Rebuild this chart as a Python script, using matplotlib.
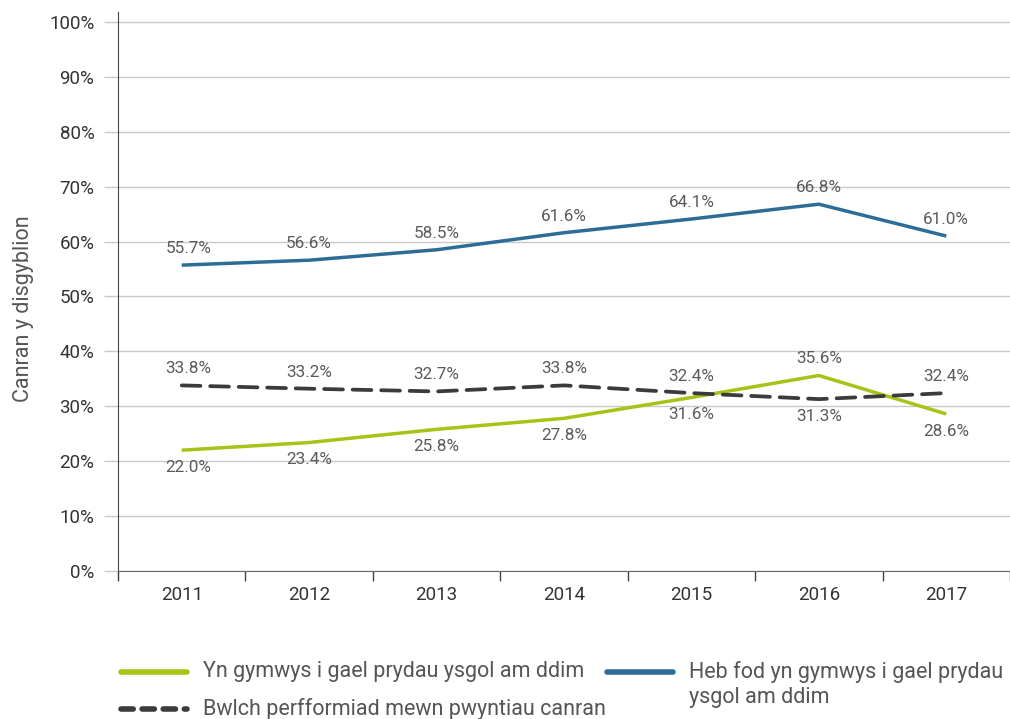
import matplotlib
matplotlib.use("Agg")
import matplotlib.pyplot as plt
from matplotlib.lines import Line2D

plt.rcParams['font.family'] = ['Roboto', 'DejaVu Sans']

years = ["2011", "2012", "2013", "2014", "2015", "2016", "2017"]
freeMeals = [22.0, 23.4, 25.8, 27.8, 31.6, 35.6, 28.6]
notFreeMeals = [55.7, 56.6, 58.5, 61.6, 64.1, 66.8, 61.0]
gap = [33.8, 33.2, 32.7, 33.8, 32.4, 31.3, 32.4]
yTicks = [0, 10, 20, 30, 40, 50, 60, 70, 80, 90, 100]

# label positions for each series: 1 above, -1 below
freePos = [-1, -1, -1, -1, -1, 1, -1]
notFreePos = [1, 1, 1, 1, 1, 1, 1]
gapPos = [1, 1, 1, 1, 1, -1, 1]

green = "#a5c416"
blue = "#2b6d97"
dark = "#3b3b3b"
textGray = "#5a5a5a"
gridGray = "#c8c8c8"

fig = plt.figure(figsize=(10.10, 7.19), dpi=100)
ax = fig.add_axes([118/1010, 1 - 571/719, 1 - 118/1010, (571 - 12)/719])

x = list(range(len(years)))
ax.plot(x, notFreeMeals, color=blue, lw=2.5, solid_capstyle="butt", zorder=3)
ax.plot(x, freeMeals, color=green, lw=2.5, solid_capstyle="butt", zorder=3)
ax.plot(x, gap, color=dark, lw=2.7, ls=(0, (5, 2.6)), dash_capstyle="round", zorder=4)

def addLabels(values, pos):
	for i, v in enumerate(values):
		off = 12 if pos[i] > 0 else -12.5
		ax.annotate("{:.1f}%".format(v), (i, v), xytext=(5 if i == 0 else 0, off),
			textcoords="offset points", ha="center", va="center",
			fontsize=12.3, color=textGray)

addLabels(notFreeMeals, notFreePos)
addLabels(freeMeals, freePos)
addLabels(gap, gapPos)

ax.set_xlim(-0.5, 6.5)
ax.set_ylim(0, 101.8)
ax.set_yticks(yTicks)
ax.set_yticklabels(["{}%".format(t) for t in yTicks], fontsize=13.5, color="#333333")
ax.set_xticks(x)
ax.set_xticklabels(years, fontsize=13.5, color="#333333")
ax.set_xticks([i - 0.5 for i in range(len(years) + 1)], minor=True)
ax.tick_params(axis="x", which="major", length=0, pad=11)
ax.tick_params(axis="x", which="minor", length=7, width=1, color="#444444", direction="out")
ax.tick_params(axis="y", length=10, width=1, color=gridGray, pad=7)
ax.grid(axis="y", color=gridGray, lw=1)
ax.set_axisbelow(True)

for side in ["top", "right"]:
	ax.spines[side].set_visible(False)
ax.spines["left"].set_color("#444444")
ax.spines["left"].set_bounds(-1.3, 101.8)
ax.spines["bottom"].set_color("#666666")

ax.set_ylabel("Canran y disgyblion", fontsize=15.5, color="#555555")
ax.yaxis.set_label_coords(-0.094, 0.47)

# legend drawn by hand
def legendEntry(x0, y0, color, ls, text):
	fig.add_artist(Line2D([x0 / 1010, (x0 + 66) / 1010], [1 - y0 / 719, 1 - y0 / 719],
		color=color, lw=4, ls=ls, solid_capstyle="round", dash_capstyle="round"))
	fig.text((x0 + 82) / 1010, 1 - y0 / 719, text, fontsize=15.5, color="#555555",
		va="center", ha="left")

legendEntry(121, 672, green, "-", "Yn gymwys i gael prydau ysgol am ddim")
legendEntry(121, 709, dark, (0, (2.2, 1.6)), "Bwlch perfformiad mewn pwyntiau canran")
legendEntry(607, 672, blue, "-", "Heb fod yn gymwys i gael prydau")
fig.text(689 / 1010, 1 - 698 / 719, "ysgol am ddim", fontsize=15.5, color="#555555",
	va="center", ha="left")

fig.savefig("out.png", dpi=100)
